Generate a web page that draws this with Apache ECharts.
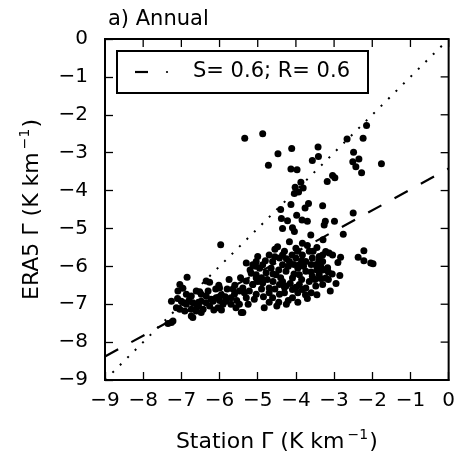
<!DOCTYPE html>
<html>
<head>
<meta charset="utf-8">
<script src="https://cdn.jsdelivr.net/npm/echarts@6/dist/echarts.min.js"></script>
<style>html,body{margin:0;padding:0;background:#fff}#c{width:458px;height:458px}</style>
</head>
<body>
<div id="c"></div>
<script>
// ---- data ----
const axisTicks = [-9,-8,-7,-6,-5,-4,-3,-2,-1,0];
const points = [
 // upper scattered
 [-5.34,-2.62],[-4.87,-2.50],[-4.11,-2.89],[-4.47,-3.03],[-4.72,-3.33],[-3.42,-2.85],[-3.57,-3.21],[-3.41,-3.10],
 [-4.13,-3.43],[-3.97,-3.45],[-3.18,-3.76],[-3.87,-3.78],[-4.02,-3.91],[-3.81,-3.93],[-4.04,-4.08],[-3.93,-4.04],
 [-3.67,-4.34],[-3.76,-4.46],[-3.30,-4.40],[-4.13,-4.37],[-4.40,-4.50],[-4.38,-4.74],[-4.22,-4.80],[-3.98,-4.65],
 [-3.84,-4.78],[-3.70,-4.81],[-3.26,-4.91],[-4.35,-5.00],[-4.09,-4.98],[-4.04,-5.08],
 [-2.15,-2.28],[-2.66,-2.64],[-2.24,-2.62],[-2.49,-2.99],[-2.35,-3.17],[-2.51,-3.24],[-2.43,-3.37],[-2.28,-3.53],
 [-1.76,-3.29],[-3.04,-3.60],[-2.98,-3.66],[-2.50,-4.59],[-3.23,-4.81],[-2.99,-4.81],
 [-2.76,-5.15],[-3.29,-5.30],[-2.22,-5.59],[-2.37,-5.76],[-2.22,-5.85],[-2.04,-5.91],[-1.98,-5.93],[-2.83,-5.76],
 [-3.22,-5.61],[-3.13,-5.65],[-3.04,-5.70],[-3.30,-5.70],[-3.39,-5.74],[-3.35,-6.00],[-3.23,-6.09],[-3.15,-6.15],
 [-3.39,-6.13],[-2.85,-6.24],[-3.35,-6.32],[-3.15,-6.35],
 // left cluster
 [-6.85,-6.29],[-6.35,-6.39],[-6.26,-6.42],[-7.04,-6.48],[-6.02,-6.50],[-6.96,-6.58],[-7.09,-6.65],[-6.87,-6.74],
 [-6.74,-6.78],[-6.61,-6.65],[-6.52,-6.67],[-6.48,-6.74],[-6.35,-6.78],[-7.26,-6.92],[-7.00,-6.92],[-6.94,-6.96],
 [-6.87,-7.00],[-6.70,-6.96],[-6.61,-7.00],[-6.48,-6.92],[-6.35,-6.96],[-6.22,-6.87],[-6.17,-6.92],[-6.09,-6.83],
 [-7.13,-7.09],[-7.04,-7.13],[-6.91,-7.18],[-6.74,-7.13],[-6.61,-7.18],[-6.43,-7.13],[-6.74,-7.31],[-6.70,-7.35],
 [-6.48,-7.22],[-7.22,-7.44],[-7.26,-7.48],[-7.35,-7.51],
 [-6.26,-7.05],[-6.04,-7.09],[-5.91,-7.00],[-5.83,-6.92],[-5.70,-6.83],[-5.61,-6.74],[-5.48,-6.65],[-5.39,-6.57],
 [-5.70,-7.00],[-5.48,-7.00],[-5.57,-7.09],[-5.39,-7.22],[-5.30,-6.83],[-5.22,-6.65],[-5.13,-6.48],[-5.30,-6.39],
 [-5.04,-6.31],[-5.17,-6.18],[-5.30,-5.91],[-5.04,-5.87],[-5.97,-5.43],[-5.43,-7.22],[-6.00,-6.57],
 [-7.10,-6.85],[-6.80,-6.90],[-6.55,-6.95],[-6.30,-6.65],[-6.00,-6.90],[-5.85,-6.80],[-5.65,-6.60],[-5.35,-6.70],
 [-6.55,-7.05],[-5.95,-7.15],
 // dense core
 [-5.00,-5.74],[-4.48,-5.48],[-4.17,-5.35],[-4.00,-5.52],[-3.83,-5.39],[-3.61,-5.17],
 [-5.13,-5.96],[-4.87,-5.96],[-4.70,-5.70],[-4.61,-5.87],[-4.43,-5.78],[-4.35,-5.96],[-4.17,-5.87],[-4.00,-5.78],
 [-3.83,-5.70],[-3.74,-5.87],[-3.57,-5.78],[-3.48,-5.96],[-3.30,-5.87],[-3.17,-6.04],
 [-5.04,-6.22],[-4.78,-6.17],[-4.52,-6.22],[-4.26,-6.13],[-4.09,-6.31],[-3.91,-6.22],[-3.74,-6.13],[-3.57,-6.26],
 [-3.39,-6.22],[-3.22,-6.31],
 [-5.13,-6.48],[-4.87,-6.44],[-4.70,-6.57],[-4.43,-6.48],[-4.26,-6.52],[-4.09,-6.61],[-3.91,-6.48],[-3.74,-6.57],
 [-3.48,-6.52],[-3.30,-6.48],
 [-5.04,-6.74],[-4.61,-6.83],[-4.43,-6.74],[-4.09,-6.83],[-3.83,-6.61],[-4.83,-7.09],[-5.09,-6.87],
 [-4.95,-6.05],[-4.65,-6.05],[-4.40,-6.30],[-4.20,-6.00],[-3.95,-6.05],[-3.65,-6.40],[-3.45,-6.10],[-4.75,-6.35],
 [-4.55,-6.60],[-4.30,-6.70],[-3.95,-6.70],[-3.60,-6.70],[-4.90,-6.60],[-4.10,-5.70],[-3.90,-5.95],[-3.65,-5.60],
 [-4.30,-5.60],[-4.55,-5.55],[-3.45,-5.50],[-5.20,-6.10],[-5.45,-6.30],[-5.60,-6.50],[-5.80,-6.60],[-5.95,-6.75],
 [-6.10,-6.60],[-5.75,-6.35],[-5.55,-6.90],[-6.15,-7.15],[-5.25,-7.00],[-4.70,-6.95],[-4.45,-6.95],[-4.20,-6.90],
 [-3.45,-6.75],[-3.10,-6.65],[-2.95,-6.45],[-3.05,-6.20],[-2.90,-5.90],
 [-5.05,-6.00],[-4.80,-5.85],[-4.55,-5.75],[-4.25,-5.80],[-4.05,-5.95],[-3.80,-6.00],[-3.60,-5.95],[-3.40,-5.85],
 [-4.90,-6.30],[-4.60,-6.40],[-4.35,-6.40],[-4.15,-6.45],[-3.85,-6.35],[-3.60,-6.15],[-3.50,-6.35],[-4.70,-6.70],
 [-4.30,-6.55],[-4.00,-6.55],[-3.75,-6.75],[-5.00,-6.40],[-4.85,-6.80],[-4.45,-6.10],[-4.05,-6.20],[-3.85,-5.85],
 [-3.30,-6.10],[-4.60,-6.20],[-4.35,-5.70],[-3.95,-5.60],[-3.70,-5.45],[-3.55,-5.60],
 [-4.50,-7.05],[-4.25,-7.00],[-3.95,-6.95],[-3.70,-6.85]
];
const stationX = points.map(p => p[0]);
const era5Y = points.map(p => p[1]);
const regLine = [[-9, -8.38], [0, -3.42]];
const oneToOne = [[-9, -9], [0, 0]];
const titleText = 'a) Annual';
const legendText = 'S= 0.6; R= 0.6';

// ---- chart ----
const FONT = '"DejaVu Sans"';
const fmt = v => String(v).replace('-', '\u2212');
const chart = echarts.init(document.getElementById('c'), null, {renderer: 'canvas'});
const TICK_LEN = 8;
const baseAxis = {
  type: 'value', min: -9, max: 0, interval: 1, show: true,
  axisLine: {show: true, onZero: false, lineStyle: {color: '#000', width: 2}},
  axisTick: {show: true, inside: true, length: TICK_LEN, lineStyle: {color: '#000', width: 1.3}},
  splitLine: {show: false}
};
const rich = {
  n: {fontFamily: FONT, fontSize: 22, color: '#000', lineHeight: 28},
  s: {fontFamily: FONT, fontSize: 14, color: '#000', lineHeight: 28, verticalAlign: 'top', padding: [0, 1, 0, 3]}
};
const legendGraphics = [
  {type: 'rect', shape: {x: 117, y: 51, width: 251, height: 42}, z: 100,
    style: {fill: '#fff', stroke: '#000', lineWidth: 2}},
  {type: 'line', shape: {x1: 135, y1: 72, x2: 148, y2: 72}, z: 101,
    style: {stroke: '#000', lineWidth: 2.2}},
  {type: 'circle', shape: {cx: 167, cy: 72, r: 1.1}, z: 101, style: {fill: '#000'}},
  {type: 'text', x: 193, y: 72, z: 101,
    style: {text: legendText, fontFamily: FONT, fontSize: 21, fill: '#000', verticalAlign: 'middle'}}
];
chart.setOption({
  animation: false,
  backgroundColor: '#fff',
  title: {text: titleText, left: 103, top: 4,
    textStyle: {fontFamily: FONT, fontSize: 21, fontWeight: 'normal', color: '#000'}},
  grid: {left: 105, top: 39, width: 345, height: 344, containLabel: false,
    show: true, borderColor: '#000', borderWidth: 2, backgroundColor: 'transparent'},
  xAxis: Object.assign({}, baseAxis, {position: 'bottom',
    axisLabel: {show: true, margin: 11, fontFamily: FONT, fontSize: 20, color: '#000', formatter: fmt},
    name: '{n|Station Γ (K km}{s|\u22121}{n|)}', nameLocation: 'middle', nameGap: 48,
    nameTextStyle: {rich: rich}}),
  yAxis: Object.assign({}, baseAxis, {position: 'left',
    axisLabel: {show: true, margin: 17, fontFamily: FONT, fontSize: 20, color: '#000', formatter: fmt},
    name: '{n|ERA5 Γ (K km}{s|\u22121}{n|)}', nameLocation: 'middle', nameGap: 59,
    nameTextStyle: {rich: rich}}),
  series: [
    {type: 'line', data: oneToOne, showSymbol: false, symbol: 'none', z: 3,
      lineStyle: {color: '#000', width: 2, type: [2, 8.5], cap: 'butt'}},
    {type: 'line', data: regLine, showSymbol: false, symbol: 'none', z: 3,
      lineStyle: {color: '#000', width: 2.2, type: [15, 15], cap: 'butt'}},
    {type: 'scatter', data: stationX.map((x, i) => [x, era5Y[i]]), symbol: 'circle', symbolSize: 7,
      itemStyle: {color: '#000', opacity: 1}, z: 4}
  ],
  graphic: legendGraphics
});

// mirrored ticks on the top and right spines, positioned through the chart's own axes
const mirrorTicks = [];
axisTicks.forEach(v => {
  const top = chart.convertToPixel({gridIndex: 0}, [v, 0]);
  mirrorTicks.push({type: 'line', z: 50, silent: true,
    shape: {x1: top[0], y1: top[1], x2: top[0], y2: top[1] + TICK_LEN},
    style: {stroke: '#000', lineWidth: 1.3}});
  const right = chart.convertToPixel({gridIndex: 0}, [0, v]);
  mirrorTicks.push({type: 'line', z: 50, silent: true,
    shape: {x1: right[0], y1: right[1], x2: right[0] - TICK_LEN, y2: right[1]},
    style: {stroke: '#000', lineWidth: 1.3}});
});
chart.setOption({graphic: legendGraphics.concat(mirrorTicks)});
</script>
</body>
</html>
